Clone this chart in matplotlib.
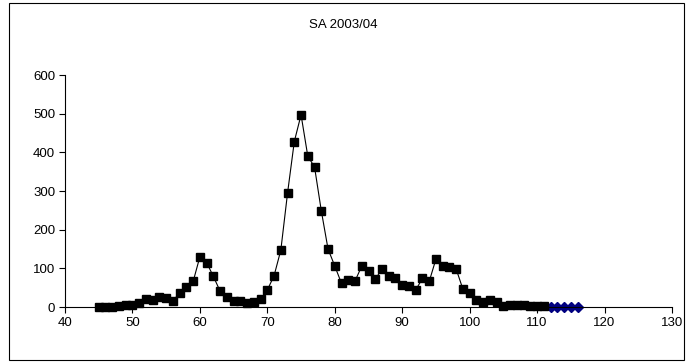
import matplotlib
matplotlib.use("Agg")
import matplotlib.pyplot as plt
from matplotlib.patches import Rectangle

plt.rcParams["font.family"] = ["Liberation Sans", "DejaVu Sans"]

weeks = list(range(45, 112))
cases = [
    1, 1, 1, 2, 4, 6, 10, 21, 17, 27,
    23, 15, 37, 51, 66, 130, 115, 79, 41, 27,
    16, 15, 11, 14, 21, 44, 81, 147, 295, 428,
    497, 390, 362, 249, 150, 106, 61, 70, 67, 106,
    92, 72, 98, 80, 74, 57, 54, 44, 74, 66,
    124, 106, 104, 98, 46, 37, 19, 12, 17, 12,
    2, 6, 6, 5, 3, 3, 3,
]
extra_weeks = [112, 113, 114, 115, 116]
extra_cases = [0, 0, 0, 0, 0]

W, H = 687, 363
fig = plt.figure(figsize=(W / 100, H / 100), dpi=100)
ax = fig.add_axes([65 / W, (H - 307) / H, (672 - 65) / W, (307 - 75) / H])

# blue series sits underneath the black one, only its tail shows
ax.plot(weeks, cases, linestyle="none", marker="D", markersize=3.8,
        color="#000080", zorder=2, clip_on=False)
ax.plot(extra_weeks, extra_cases, linestyle="none", marker="D", markersize=5,
        color="#000080", zorder=2, clip_on=False)
ax.plot(weeks, cases, color="black", linewidth=0.8, marker="s", markersize=5.5,
        markerfacecolor="black", markeredgecolor="black", zorder=3, clip_on=False)

ax.set_xlim(40, 130)
ax.set_ylim(0, 600)
ax.set_xticks(range(40, 131, 10))
ax.set_yticks(range(0, 601, 100))
for side in ["top", "right"]:
    ax.spines[side].set_visible(False)
for side in ["left", "bottom"]:
    ax.spines[side].set_linewidth(0.8)
ax.tick_params(direction="out", length=4, width=0.8, labelsize=9.5, pad=3)

fig.text(343 / W, 1 - 25 / H, "SA 2003/04", ha="center", va="center", fontsize=9.5)
fig.patches.append(Rectangle((9 / W, 3 / H), (684 - 9) / W, (360 - 3) / H,
                             transform=fig.transFigure, fill=False,
                             edgecolor="black", linewidth=0.8))

fig.savefig("out.png", dpi=100)
